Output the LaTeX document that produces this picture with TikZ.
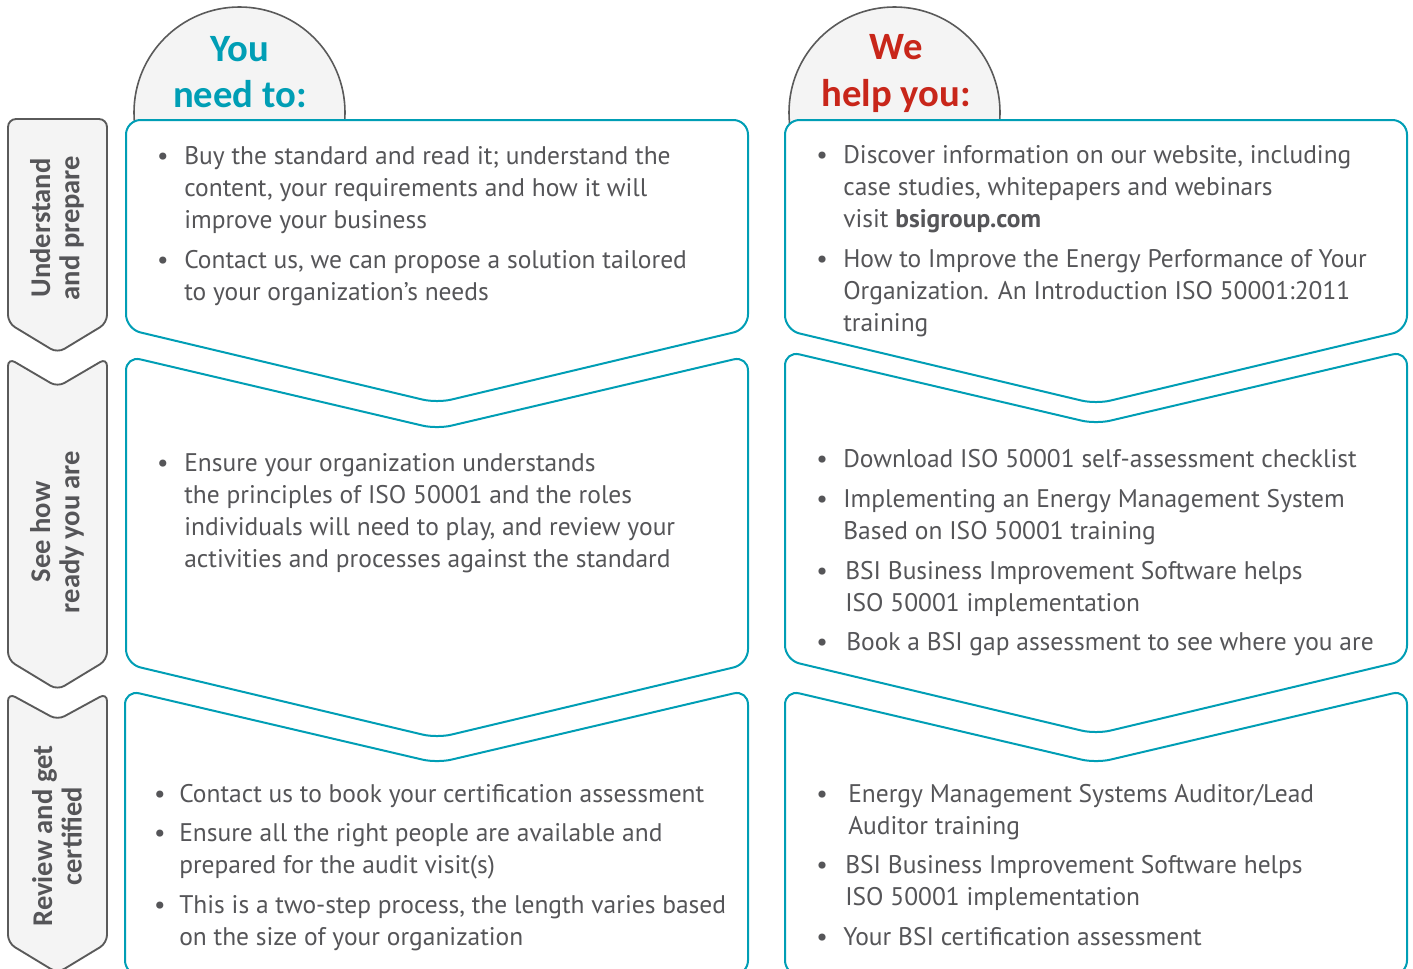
\documentclass[tikz,border=0pt]{standalone}
\usepackage{fontspec}
\setmainfont{PT Sans}
\newfontfamily\headfont{Carlito}
\usetikzlibrary{positioning}

\definecolor{bsiteal}{RGB}{0,158,181}
\definecolor{bsired}{RGB}{200,38,26}
\definecolor{bsigray}{RGB}{85,85,88}
\definecolor{tabline}{RGB}{90,90,90}
\definecolor{tabfill}{RGB}{244,244,244}

\tikzset{
  panel/.style={draw=bsiteal, fill=white, line width=1.5pt, rounded corners=11pt},
  tabshape/.style={draw=tabline, fill=tabfill, line width=1.4pt, rounded corners=6pt},
  dome/.style={draw=tabline, fill=tabfill, line width=1.2pt},
  item/.style={anchor=north west, yshift=16.8pt, inner sep=0pt, align=left, text=bsigray,
    font=\fontsize{19.1}{24}\selectfont},
  dot/.style={anchor=base, inner sep=0pt, text=bsigray, font=\fontsize{19.1}{24}\selectfont},
  tablabel/.style={rotate=90, align=center, text=bsigray,
    font=\headfont\bfseries\fontsize{21.4}{22}\selectfont},
  heading/.style={align=center, font=\headfont\bfseries\fontsize{29}{35}\selectfont}
}

\begin{document}
\begin{tikzpicture}[x=0.75pt, y=-0.75pt]
  \clip (0,0) rectangle (1413,968);

  % domes behind the columns
  \draw[dome] (239.5,112.5) circle (105.5);
  \draw[dome] (894.5,112.5) circle (105.5);
  \node[heading, text=bsiteal] (you) at (240,72) {You\\need to:};
  \node[heading, text=bsired] (we) at (896,73.5) {We\\help you:};

  % step tabs
  \draw[tabshape] (8,119) -- (107,119) -- (107,323) -- (57.5,353) -- (8,323) -- cycle;
  \draw[tabshape] (8,358) -- (57.5,387) -- (107,358) -- (107,660) -- (57.5,690) -- (8,660) -- cycle;
  \draw[tabshape] (8,693) -- (57.5,720) -- (107,693) -- (107,943) -- (57.5,973) -- (8,943) -- cycle;
  \node[tablabel] (tab1) at (57,228) {Understand\\and prepare};
  \node[tablabel] (tab2) at (57,532) {See how\\ready you are};
  \node[tablabel] (tab3) at (57,836) {Review and get\\certified};

  % left column
  \draw[panel] (126,120) -- (748,120) -- (748,329) -- (437,403) -- (126,329) -- cycle;
  \draw[panel] (126,356) -- (437,429) -- (748,356) -- (748,664) -- (437,738) -- (126,664) -- cycle;
  \draw[panel] (125,690) -- (437,763) -- (748,690) -- (748,975) -- (125,975) -- cycle;

  % right column
  \draw[panel] (785,120) -- (1407,120) -- (1407,330) -- (1096,404) -- (785,330) -- cycle;
  \draw[panel] (785,351) -- (1096,424) -- (1407,351) -- (1407,660) -- (1096,734) -- (785,660) -- cycle;
  \draw[panel] (785,690) -- (1096,763) -- (1407,690) -- (1407,975) -- (785,975) -- cycle;

  % you need to
  \node[item] (l1a) at (184,164) {\strut Buy the standard and read it; understand the\\content, your requirements and how it will\\improve your business};
  \node[item] (l1b) at (184,268) {\strut Contact us, we can propose a solution tailored\\to your organization's needs};
  \node[item] (l2a) at (184,471) {\strut Ensure your organization understands\\the principles of ISO 50001 and the roles\\individuals will need to play, and review your\\activities and processes against the standard};
  \node[item] (l3a) at (179,802) {\strut Contact us to book your certification assessment};
  \node[item] (l3b) at (179,841) {\strut Ensure all the right people are available and\\prepared for the audit visit(s)};
  \node[item] (l3c) at (179,913) {\strut This is a two-step process, the length varies based\\on the size of your organization};

  % we help you
  \node[item] (r1a) at (843,163) {\strut Discover information on our website, including\\case studies, whitepapers and webinars\\visit \textbf{bsigroup.com}};
  \node[item] (r1b) at (843,267) {\strut How to Improve the Energy Performance of Your\\Organization. An Introduction ISO 50001:2011\\training};
  \node[item] (r2a) at (843,467) {\strut Download ISO 50001 self-assessment checklist};
  \node[item] (r2b) at (843,507) {\strut Implementing an Energy Management System\\Based on ISO 50001 training};
  \node[item] (r2c) at (845,579) {\strut BSI Business Improvement Software helps\\ISO 50001 implementation};
  \node[item] (r2d) at (846,650) {\strut Book a BSI gap assessment to see where you are};
  \node[item] (r3a) at (848,802) {\strut Energy Management Systems Auditor/Lead\\Auditor training};
  \node[item] (r3b) at (845,873) {\strut BSI Business Improvement Software helps\\ISO 50001 implementation};
  \node[item] (r3c) at (843,945) {\strut Your BSI certification assessment};

  % bullets
  \foreach \t/\d in {l1a/21, l1b/21, l2a/21, l3a/19, l3b/19, l3c/19,
                     r1a/21, r1b/21, r2a/21, r2b/21, r2c/23, r2d/24, r3a/26, r3b/23, r3c/21}
    \node[dot] (\t-dot) at ([xshift=-\d*0.75pt, yshift=-16.8pt]\t.north west) {•};
\end{tikzpicture}
\end{document}
